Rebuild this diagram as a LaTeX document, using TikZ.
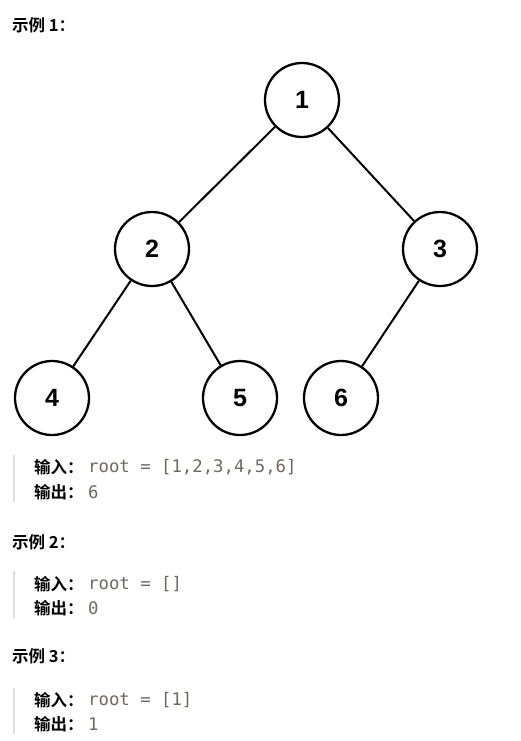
\documentclass[tikz,border=0pt]{standalone}
\usepackage{fontspec}
\setmainfont{Liberation Sans}
\newfontfamily\cjk{Noto Sans CJK SC}[BoldFont={Noto Sans CJK SC Bold}]
\newfontfamily\codefont{DejaVu Sans Mono}
\definecolor{codegray}{RGB}{112,104,98}
\definecolor{bargray}{RGB}{221,221,221}
\begin{document}
\begin{tikzpicture}[x=1pt,y=-1pt,
  tnode/.style={circle,draw=black,line width=2.3pt,minimum size=74pt,inner sep=0pt,font=\fontsize{25}{25}\selectfont\bfseries},
  tedge/.style={line width=2pt,black},
  heading/.style={anchor=west,inner sep=0pt,font=\cjk\fontsize{16.5}{17}\selectfont\bfseries},
  lbl/.style={anchor=west,inner sep=0pt,font=\cjk\fontsize{16.5}{17}\selectfont\bfseries},
  code/.style={anchor=west,inner sep=0pt,text=codegray,font=\codefont\fontsize{17.3}{17}\selectfont},
  bar/.style={line width=2.5pt,bargray}]
\useasboundingbox[fill=white] (0,0) rectangle (521,741);
\node[heading] (h1) at (12,25) {示例 1：};
\node[tnode] (n1) at (302,100) {1};
\node[tnode] (n2) at (152,249) {2};
\node[tnode] (n3) at (440,249) {3};
\node[tnode] (n4) at (52,398) {4};
\node[tnode] (n5) at (240,398) {5};
\node[tnode] (n6) at (341,398) {6};
\draw[tedge] (n1) -- (n2);
\draw[tedge] (n1) -- (n3);
\draw[tedge] (n2) -- (n4);
\draw[tedge] (n2) -- (n5);
\draw[tedge] (n3) -- (n6);
% example 1 block
\coordinate (b1t) at (14,455);
\coordinate (b1b) at (14,502);
\draw[bar] (b1t) -- (b1b);
\node[lbl] (i1) at (34,467) {输入：};
\node[code] (c1) at (88,467) {root = [1,2,3,4,5,6]};
\node[lbl] (o1) at (34,492) {输出：};
\node[code] (d1) at (88,492) {6};
% example 2
\node[heading] (h2) at (12,542) {示例 2：};
\coordinate (b2t) at (14,571);
\coordinate (b2b) at (14,618);
\draw[bar] (b2t) -- (b2b);
\node[lbl] (i2) at (34,584) {输入：};
\node[code] (c2) at (88,584) {root = []};
\node[lbl] (o2) at (34,608) {输出：};
\node[code] (d2) at (88,608) {0};
% example 3
\node[heading] (h3) at (12,656) {示例 3：};
\coordinate (b3t) at (14,688);
\coordinate (b3b) at (14,734);
\draw[bar] (b3t) -- (b3b);
\node[lbl] (i3) at (34,700) {输入：};
\node[code] (c3) at (88,700) {root = [1]};
\node[lbl] (o3) at (34,724) {输出：};
\node[code] (d3) at (88,724) {1};
\end{tikzpicture}
\end{document}
